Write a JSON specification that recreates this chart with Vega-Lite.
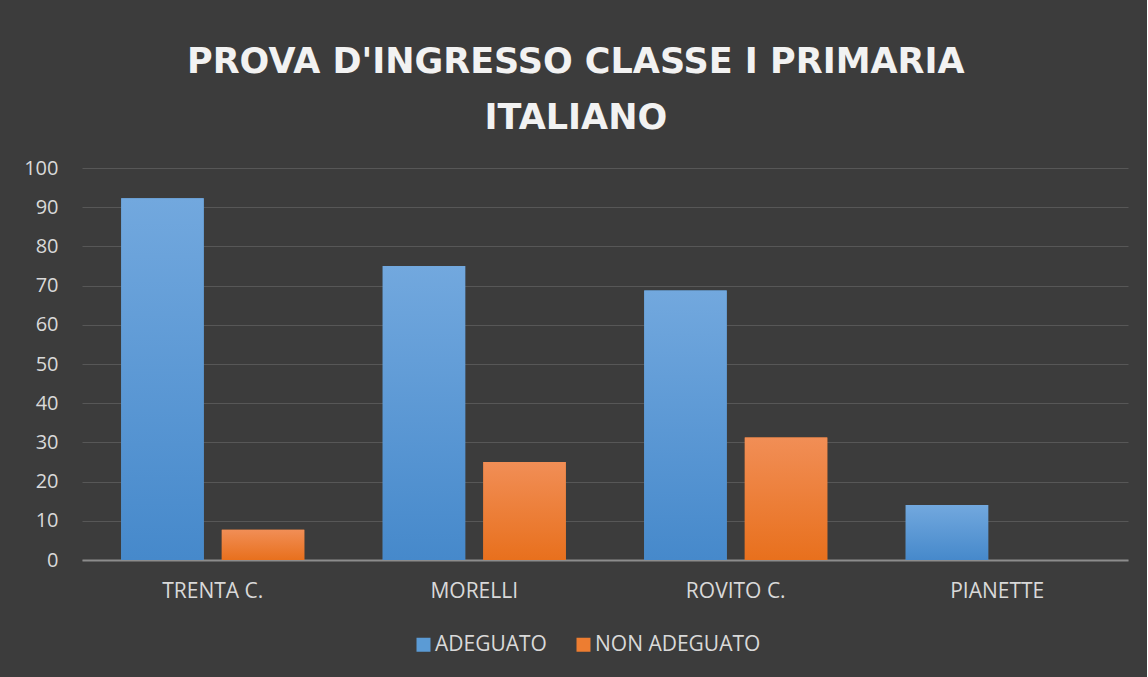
{
  "$schema": "https://vega.github.io/schema/vega-lite/v6.json",
  "width": 1046,
  "height": 392,
  "padding": {"left": 23, "top": 45, "right": 19, "bottom": 25},
  "background": "#3c3c3c",
  "title": {
    "text": ["PROVA D'INGRESSO CLASSE I PRIMARIA", "ITALIANO"],
    "font": "DejaVu Sans",
    "fontSize": 35,
    "fontWeight": "bold",
    "color": "#f2f2f2",
    "lineHeight": 56,
    "anchor": "middle",
    "frame": "bounds",
    "offset": 22
  },
  "data": {
    "values": [
      {"scuola": "TRENTA C.", "serie": "ADEGUATO", "valore": 92.3},
      {"scuola": "TRENTA C.", "serie": "NON ADEGUATO", "valore": 7.7},
      {"scuola": "MORELLI", "serie": "ADEGUATO", "valore": 75},
      {"scuola": "MORELLI", "serie": "NON ADEGUATO", "valore": 25},
      {"scuola": "ROVITO C.", "serie": "ADEGUATO", "valore": 68.75},
      {"scuola": "ROVITO C.", "serie": "NON ADEGUATO", "valore": 31.25},
      {"scuola": "PIANETTE", "serie": "ADEGUATO", "valore": 14},
      {"scuola": "PIANETTE", "serie": "NON ADEGUATO", "valore": 0}
    ]
  },
  "encoding": {
    "x": {
      "field": "scuola",
      "type": "nominal",
      "sort": null,
      "scale": {"paddingInner": 0.3, "paddingOuter": 0.15},
      "axis": {
        "title": null,
        "labelAngle": 0,
        "labelFont": "Open Sans",
        "labelFontSize": 21,
        "labelColor": "#d9d9d9",
        "labelPadding": 20,
        "ticks": false,
        "domainColor": "#8c8c8c",
        "domainWidth": 2
      }
    },
    "xOffset": {
      "field": "serie",
      "type": "nominal",
      "sort": ["ADEGUATO", "NON ADEGUATO"],
      "scale": {"paddingInner": 0.18, "paddingOuter": 0}
    },
    "y": {
      "field": "valore",
      "type": "quantitative",
      "scale": {"domain": [0, 100]},
      "axis": {
        "title": null,
        "values": [0, 10, 20, 30, 40, 50, 60, 70, 80, 90, 100],
        "labelFont": "Open Sans",
        "labelFontSize": 20,
        "labelColor": "#d9d9d9",
        "labelPadding": 24,
        "ticks": false,
        "domain": false,
        "gridColor": "#575757",
        "gridWidth": 1
      }
    }
  },
  "layer": [
    {
      "mark": {"type": "bar"},
      "encoding": {
        "color": {
          "field": "serie",
          "type": "nominal",
          "sort": ["ADEGUATO", "NON ADEGUATO"],
          "scale": {"domain": ["ADEGUATO", "NON ADEGUATO"], "range": ["#5b9bd5", "#ed7d31"]},
          "legend": {
            "title": null,
            "orient": "none",
            "legendX": 331,
            "legendY": 466,
            "direction": "horizontal",
            "labelFont": "Open Sans",
            "labelFontSize": 21,
            "labelColor": "#d9d9d9",
            "labelLimit": 400,
            "symbolType": "square",
            "symbolSize": 196,
            "symbolStrokeWidth": 0,
            "symbolOpacity": 1,
            "columnPadding": 26,
            "labelOffset": 1
          }
        }
      }
    },
    {
      "mark": {"type": "bar"},
      "encoding": {
        "fill": {
          "condition": {
            "test": "datum.serie === 'ADEGUATO'",
            "value": {
              "gradient": "linear", "x1": 0, "y1": 0, "x2": 0, "y2": 1,
              "stops": [{"offset": 0, "color": "#72a8de"}, {"offset": 1, "color": "#4689cb"}]
            }
          },
          "value": {
            "gradient": "linear", "x1": 0, "y1": 0, "x2": 0, "y2": 1,
            "stops": [{"offset": 0, "color": "#f18e56"}, {"offset": 1, "color": "#e8701d"}]
          }
        }
      }
    }
  ],
  "config": {"view": {"stroke": null}}
}
